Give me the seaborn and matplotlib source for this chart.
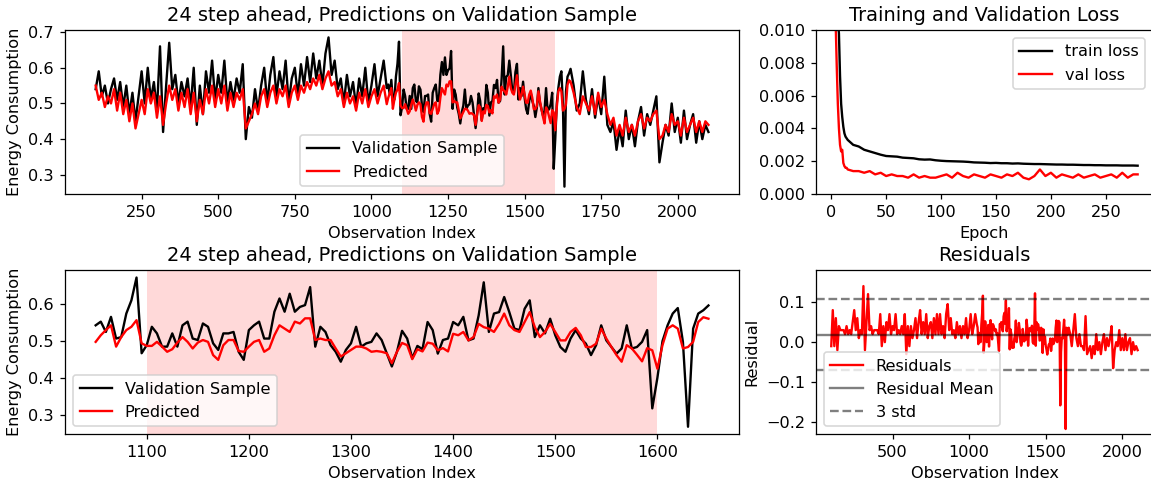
import numpy as np
import pandas as pd
import matplotlib
matplotlib.use("Agg")
import matplotlib.pyplot as plt
import seaborn as sns

# observation index: coarse outside the zoom window, finer inside 1050-1650
idx_early = list(range(100, 1050, 10))
idx_zoom = list(range(1050, 1655, 5))
idx_late = list(range(1660, 2101, 10))

actual_early = [
    0.54, 0.59, 0.52, 0.55, 0.50, 0.54, 0.57, 0.51, 0.56, 0.49,
    0.55, 0.47, 0.53, 0.45, 0.52, 0.59, 0.50, 0.60, 0.51, 0.56,
    0.48, 0.66, 0.42, 0.55, 0.67, 0.54, 0.58, 0.50, 0.56, 0.52,
    0.57, 0.49, 0.60, 0.44, 0.55, 0.47, 0.59, 0.53, 0.62, 0.51,
    0.58, 0.53, 0.62, 0.50, 0.56, 0.51, 0.57, 0.53, 0.61, 0.40,
    0.49, 0.46, 0.54, 0.48, 0.55, 0.60, 0.50, 0.58, 0.63, 0.52,
    0.59, 0.54, 0.62, 0.50, 0.57, 0.60, 0.52, 0.61, 0.55, 0.63,
    0.56, 0.64, 0.57, 0.62, 0.55, 0.64, 0.685, 0.58, 0.62, 0.54,
    0.57, 0.50, 0.58, 0.52, 0.56, 0.49, 0.57, 0.52, 0.60, 0.50,
    0.55, 0.61, 0.52, 0.57, 0.62,
]
pred_early = [
    0.55, 0.51, 0.53, 0.49, 0.52, 0.50, 0.54, 0.48, 0.53, 0.47,
    0.51, 0.45, 0.50, 0.43, 0.47, 0.51, 0.47, 0.54, 0.50, 0.53,
    0.46, 0.52, 0.44, 0.50, 0.55, 0.51, 0.54, 0.48, 0.53, 0.49,
    0.54, 0.47, 0.53, 0.45, 0.51, 0.47, 0.54, 0.50, 0.55, 0.49,
    0.54, 0.50, 0.55, 0.48, 0.53, 0.49, 0.53, 0.51, 0.54, 0.43,
    0.45, 0.47, 0.50, 0.47, 0.52, 0.54, 0.49, 0.53, 0.55, 0.50,
    0.54, 0.52, 0.55, 0.49, 0.53, 0.55, 0.51, 0.55, 0.53, 0.56,
    0.54, 0.57, 0.55, 0.58, 0.54, 0.57, 0.59, 0.55, 0.56, 0.52,
    0.54, 0.49, 0.53, 0.50, 0.52, 0.48, 0.53, 0.50, 0.54, 0.49,
    0.52, 0.54, 0.50, 0.53, 0.55,
]

actual_zoom = [
    0.543, 0.553, 0.525, 0.566, 0.507, 0.511, 0.575, 0.611, 0.673, 0.467,
    0.489, 0.539, 0.521, 0.485, 0.485, 0.521, 0.485, 0.543, 0.553, 0.507,
    0.503, 0.548, 0.539, 0.494, 0.476, 0.521, 0.521, 0.525, 0.471, 0.449,
    0.530, 0.543, 0.553, 0.507, 0.507, 0.580, 0.616, 0.580, 0.629, 0.580,
    0.593, 0.598, 0.647, 0.485, 0.539, 0.525, 0.489, 0.471, 0.444, 0.476,
    0.494, 0.539, 0.485, 0.494, 0.498, 0.521, 0.503, 0.467, 0.431, 0.471,
    0.528, 0.507, 0.453, 0.487, 0.478, 0.552, 0.530, 0.466, 0.503, 0.507,
    0.552, 0.543, 0.566, 0.502, 0.507, 0.570, 0.660, 0.525, 0.575, 0.579,
    0.620, 0.579, 0.534, 0.530, 0.588, 0.611, 0.511, 0.543, 0.521, 0.561,
    0.516, 0.484, 0.471, 0.507, 0.530, 0.507, 0.493, 0.462, 0.489, 0.543,
    0.502, 0.484, 0.466, 0.480, 0.543, 0.480, 0.484, 0.498, 0.530, 0.317,
    0.400, 0.500, 0.543, 0.575, 0.590, 0.498, 0.267, 0.534, 0.575, 0.584,
    0.597,
]
pred_zoom = [
    0.498, 0.516, 0.530, 0.543, 0.485, 0.511, 0.530, 0.539, 0.557, 0.494,
    0.487, 0.487, 0.498, 0.485, 0.471, 0.478, 0.496, 0.511, 0.498, 0.480,
    0.496, 0.503, 0.498, 0.462, 0.449, 0.489, 0.503, 0.503, 0.473, 0.471,
    0.485, 0.498, 0.503, 0.471, 0.480, 0.516, 0.543, 0.534, 0.525, 0.553,
    0.548, 0.562, 0.562, 0.503, 0.507, 0.503, 0.503, 0.480, 0.458, 0.467,
    0.476, 0.485, 0.485, 0.480, 0.471, 0.473, 0.471, 0.467, 0.440, 0.471,
    0.495, 0.489, 0.451, 0.478, 0.472, 0.496, 0.493, 0.475, 0.481, 0.472,
    0.520, 0.516, 0.525, 0.502, 0.511, 0.547, 0.538, 0.534, 0.525, 0.547,
    0.575, 0.543, 0.530, 0.525, 0.552, 0.579, 0.538, 0.511, 0.525, 0.547,
    0.525, 0.502, 0.502, 0.525, 0.536, 0.516, 0.484, 0.484, 0.493, 0.534,
    0.507, 0.484, 0.462, 0.444, 0.489, 0.480, 0.463, 0.445, 0.481, 0.475,
    0.425, 0.489, 0.534, 0.543, 0.534, 0.480, 0.484, 0.498, 0.552, 0.565,
    0.561,
]

actual_late = [
    0.55, 0.48, 0.50, 0.59, 0.51, 0.47, 0.54, 0.46, 0.52, 0.47,
    0.575, 0.44, 0.42, 0.45, 0.37, 0.43, 0.38, 0.48, 0.40, 0.44,
    0.38, 0.45, 0.49, 0.41, 0.47, 0.44, 0.48, 0.52, 0.335, 0.39,
    0.44, 0.41, 0.50, 0.42, 0.46, 0.39, 0.48, 0.40, 0.44, 0.47,
    0.39, 0.45, 0.40, 0.44, 0.42,
]
pred_late = [
    0.53, 0.49, 0.47, 0.52, 0.50, 0.48, 0.52, 0.47, 0.53, 0.49,
    0.51, 0.47, 0.44, 0.46, 0.41, 0.44, 0.41, 0.46, 0.42, 0.44,
    0.41, 0.45, 0.47, 0.43, 0.46, 0.45, 0.47, 0.48, 0.40, 0.41,
    0.44, 0.42, 0.47, 0.44, 0.45, 0.41, 0.46, 0.42, 0.44, 0.46,
    0.42, 0.45, 0.42, 0.45, 0.44,
]

epochs = list(range(0, 16)) + list(range(20, 276, 5)) + [279]
train_loss = [
    0.060, 0.035, 0.024, 0.018, 0.014, 0.0118, 0.0105, 0.0098, 0.0072, 0.0055,
    0.0047, 0.0041, 0.0037, 0.0035, 0.0034, 0.0033,
    0.0030, 0.0029, 0.0027, 0.0026, 0.0025, 0.0024, 0.00232, 0.00230, 0.00228, 0.00222,
    0.00220, 0.00218, 0.00212, 0.00210, 0.00211, 0.00206, 0.00203, 0.00201, 0.00200, 0.00199,
    0.00198, 0.00196, 0.00193, 0.00192, 0.00191, 0.00189, 0.00190, 0.00188, 0.00188, 0.00186,
    0.00187, 0.00185, 0.00184, 0.00183, 0.00183, 0.00182, 0.00181, 0.00180, 0.00180, 0.00179,
    0.00179, 0.00178, 0.00177, 0.00177, 0.00176, 0.00176, 0.00175, 0.00175, 0.00175, 0.00174,
    0.00174, 0.00174, 0.00173,
]
val_loss = [
    0.040, 0.025, 0.017, 0.013, 0.0105, 0.0078, 0.0055, 0.0040, 0.0030, 0.0026,
    0.0027, 0.0019, 0.0017, 0.0016, 0.0016, 0.0015,
    0.0014, 0.0014, 0.0013, 0.0014, 0.0012, 0.0013, 0.0011, 0.0012, 0.0011, 0.0011,
    0.0010, 0.0012, 0.0010, 0.0011, 0.0010, 0.0010, 0.0011, 0.0012, 0.0010, 0.0013,
    0.0011, 0.0010, 0.0012, 0.0011, 0.0010, 0.0012, 0.0011, 0.0010, 0.0012, 0.0011,
    0.0013, 0.0010, 0.0009, 0.0011, 0.0015, 0.0011, 0.0013, 0.0010, 0.0012, 0.0011,
    0.0010, 0.0012, 0.0010, 0.0011, 0.0012, 0.0010, 0.0011, 0.0012, 0.0010, 0.0013,
    0.0010, 0.0012, 0.0012,
]

# residual summary
resid_mean = 0.019
resid_std = 0.0297

obs_index = idx_early + idx_zoom + idx_late
df = pd.DataFrame({
    "index": obs_index,
    "actual": actual_early + actual_zoom + actual_late,
    "predicted": pred_early + pred_zoom + pred_late,
})
df["residual"] = df["actual"] - df["predicted"]
zoom = df[(df["index"] >= 1050) & (df["index"] <= 1650)]

plt.rcParams["font.size"] = 10.3
dpi = 113
fig = plt.figure(figsize=(1151 / dpi, 483 / dpi), dpi=dpi)
gs = fig.add_gridspec(2, 2, width_ratios=[2, 1], left=0.0565, right=1.0017,
                      top=0.938, bottom=0.101, hspace=0.463, wspace=0.152)

# top left: full validation range
ax1 = fig.add_subplot(gs[0, 0])
ax1.axvspan(1100, 1600, color="red", alpha=0.15, lw=0)
sns.lineplot(data=df, x="index", y="actual", color="black", label="Validation Sample", ax=ax1)
sns.lineplot(data=df, x="index", y="predicted", color="red", label="Predicted", ax=ax1)
ax1.set_xticks(range(250, 2001, 250))
ax1.set_yticks([0.3, 0.4, 0.5, 0.6, 0.7])
ax1.set_title("24 step ahead, Predictions on Validation Sample")
ax1.set_xlabel("Observation Index")
ax1.set_ylabel("Energy Consumption")
ax1.legend(loc="lower center")

# top right: loss curves
ax2 = fig.add_subplot(gs[0, 1])
sns.lineplot(x=epochs, y=train_loss, color="black", label="train loss", ax=ax2)
sns.lineplot(x=epochs, y=val_loss, color="red", label="val loss", ax=ax2)
ax2.set_xticks(range(0, 251, 50))
ax2.set_yticks([0.0, 0.002, 0.004, 0.006, 0.008, 0.010])
ax2.set_ylim(0, 0.01)
ax2.set_title("Training and Validation Loss")
ax2.set_xlabel("Epoch")
ax2.legend(loc="upper right")

# bottom left: zoom window
ax3 = fig.add_subplot(gs[1, 0])
ax3.axvspan(1100, 1600, color="red", alpha=0.15, lw=0)
sns.lineplot(data=zoom, x="index", y="actual", color="black", label="Validation Sample", ax=ax3)
sns.lineplot(data=zoom, x="index", y="predicted", color="red", label="Predicted", ax=ax3)
ax3.set_yticks([0.3, 0.4, 0.5, 0.6])
ax3.set_title("24 step ahead, Predictions on Validation Sample")
ax3.set_xlabel("Observation Index")
ax3.set_ylabel("Energy Consumption")
ax3.legend(loc="lower left")

# bottom right: residuals
ax4 = fig.add_subplot(gs[1, 1])
sns.lineplot(data=df, x="index", y="residual", color="red", label="Residuals", ax=ax4)
ax4.axhline(resid_mean, color="black", alpha=0.5, label="Residual Mean")
ax4.axhline(resid_mean + 3 * resid_std, color="black", alpha=0.5, ls="--", label="3 std")
ax4.axhline(resid_mean - 3 * resid_std, color="black", alpha=0.5, ls="--")
ax4.set_xticks([500, 1000, 1500, 2000])
ax4.set_yticks([-0.2, -0.1, 0.0, 0.1])
ax4.set_ylim(-0.23, 0.18)
ax4.set_title("Residuals")
ax4.set_xlabel("Observation Index")
ax4.set_ylabel("Residual")
ax4.legend(loc="lower left")

fig.savefig("out.png", dpi=dpi)
